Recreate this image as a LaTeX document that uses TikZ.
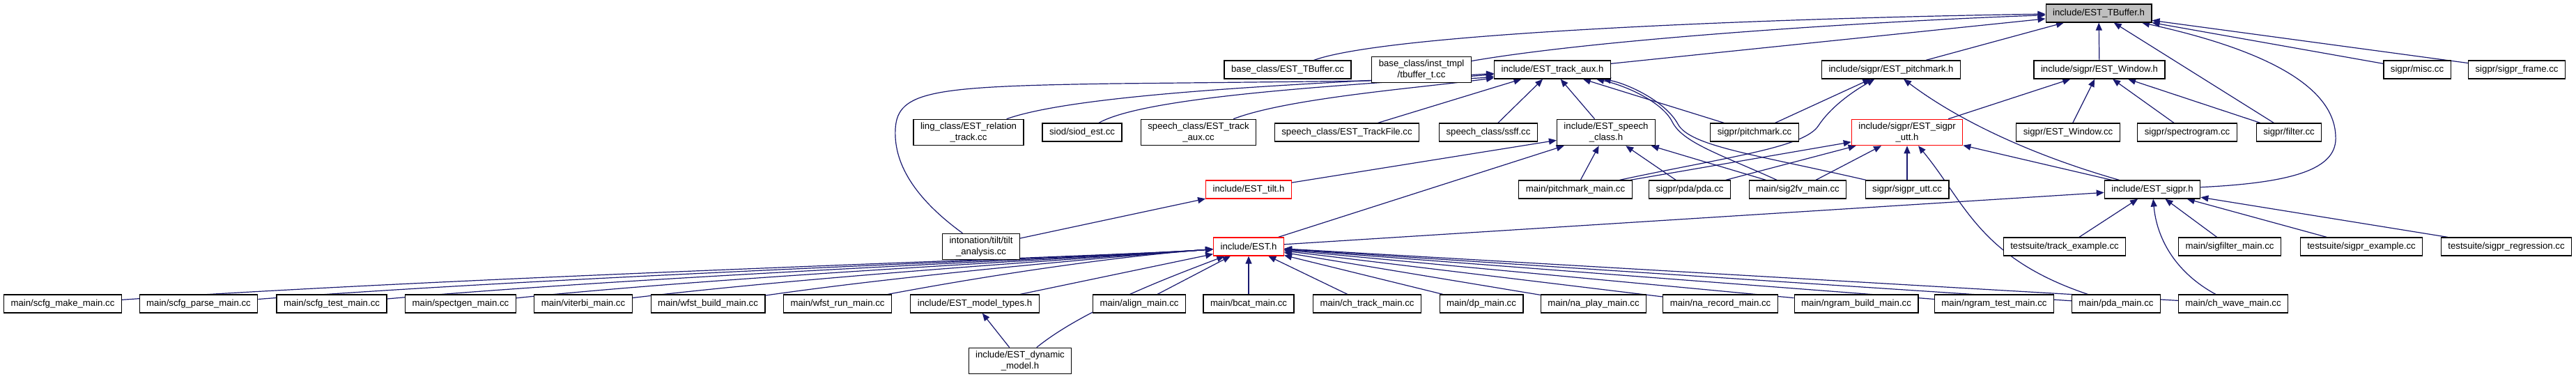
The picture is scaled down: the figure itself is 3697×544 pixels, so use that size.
\documentclass[tikz,border=0pt]{standalone}
\usepackage{fontspec}
\setmainfont{Liberation Sans}
\usetikzlibrary{arrows.meta,backgrounds}
\definecolor{edgeblue}{HTML}{191970}
\definecolor{rootgray}{HTML}{BFBFBF}
\tikzset{
  filenode/.style={draw=black,fill=white,line width=0.6pt,inner xsep=5pt,inner ysep=2.5pt,minimum height=13pt,align=center,font=\fontsize{6.6pt}{7.6pt}\selectfont},
  trunode/.style={filenode,draw=red},
  rootnode/.style={filenode,fill=rootgray},
  incedge/.style={-{Triangle[length=5.5pt,width=4.5pt]},edgeblue,line width=0.6pt},
}

\begin{document}
\begin{tikzpicture}[x=0.5pt,y=-0.5pt]
  \useasboundingbox (0,0) rectangle (3697,544);
  % rank 0
  \node[rootnode] (nTBh) at (3012,19) {include/EST\_TBuffer.h};
  % rank 1
  \node[filenode] (nTBcc) at (1848,100) {base\_class/EST\_TBuffer.cc};
  \node[filenode] (nTBt) at (2040,100) {base\_class/inst\_tmpl\\/tbuffer\_t.cc};
  \node[filenode] (nTAh) at (2228,100) {include/EST\_track\_aux.h};
  \node[filenode] (nPMh) at (2714,100) {include/sigpr/EST\_pitchmark.h};
  \node[filenode] (nWh) at (3013,100) {include/sigpr/EST\_Window.h};
  \node[filenode] (nMisc) at (3469,100) {sigpr/misc.cc};
  \node[filenode] (nFrame) at (3612,100) {sigpr/sigpr\_frame.cc};
  % rank 2
  \node[filenode] (nRel) at (1390,190) {ling\_class/EST\_relation\\\_track.cc};
  \node[filenode] (nSiod) at (1553,190) {siod/siod\_est.cc};
  \node[filenode] (nTAcc) at (1720,190) {speech\_class/EST\_track\\\_aux.cc};
  \node[filenode] (nTF) at (1933,190) {speech\_class/EST\_TrackFile.cc};
  \node[filenode] (nSsff) at (2136,190) {speech\_class/ssff.cc};
  \node[filenode] (nSCh) at (2305,190) {include/EST\_speech\\\_class.h};
  \node[filenode] (nPMcc) at (2518,190) {sigpr/pitchmark.cc};
  \node[trunode] (nSUh) at (2737,190) {include/sigpr/EST\_sigpr\\\_utt.h};
  \node[filenode] (nWcc) at (2968,190) {sigpr/EST\_Window.cc};
  \node[filenode] (nSpec) at (3139,190) {sigpr/spectrogram.cc};
  \node[filenode] (nFilt) at (3285,190) {sigpr/filter.cc};
  % rank 3
  \node[trunode] (nTilth) at (1792,272) {include/EST\_tilt.h};
  \node[filenode] (nPMmain) at (2261,272) {main/pitchmark\_main.cc};
  \node[filenode] (nPda) at (2425,272) {sigpr/pda/pda.cc};
  \node[filenode] (nS2fv) at (2580,272) {main/sig2fv\_main.cc};
  \node[filenode] (nSUcc) at (2737,272) {sigpr/sigpr\_utt.cc};
  \node[filenode] (nSigh) at (3089,272) {include/EST\_sigpr.h};
  % rank 4
  \node[filenode] (nTiltA) at (1408,354) {intonation/tilt/tilt\\\_analysis.cc};
  \node[trunode] (nESTh) at (1792,354) {include/EST.h};
  \node[filenode] (nTrEx) at (2963,354) {testsuite/track\_example.cc};
  \node[filenode] (nSigF) at (3200,354) {main/sigfilter\_main.cc};
  \node[filenode] (nSigEx) at (3389,354) {testsuite/sigpr\_example.cc};
  \node[filenode] (nSigReg) at (3597,354) {testsuite/sigpr\_regression.cc};
  % rank 5
  \node[filenode] (nScfgMake) at (90,436) {main/scfg\_make\_main.cc};
  \node[filenode] (nScfgParse) at (285,436) {main/scfg\_parse\_main.cc};
  \node[filenode] (nScfgTest) at (476,436) {main/scfg\_test\_main.cc};
  \node[filenode] (nSpectgen) at (661,436) {main/spectgen\_main.cc};
  \node[filenode] (nViterbi) at (837,436) {main/viterbi\_main.cc};
  \node[filenode] (nWfstBuild) at (1016,436) {main/wfst\_build\_main.cc};
  \node[filenode] (nWfstRun) at (1202,436) {main/wfst\_run\_main.cc};
  \node[filenode] (nModel) at (1399,436) {include/EST\_model\_types.h};
  \node[filenode] (nAlign) at (1635,436) {main/align\_main.cc};
  \node[filenode] (nBcat) at (1792,436) {main/bcat\_main.cc};
  \node[filenode] (nChTrack) at (1962,436) {main/ch\_track\_main.cc};
  \node[filenode] (nDp) at (2126,436) {main/dp\_main.cc};
  \node[filenode] (nNaPlay) at (2287,436) {main/na\_play\_main.cc};
  \node[filenode] (nNaRec) at (2469,436) {main/na\_record\_main.cc};
  \node[filenode] (nNgBuild) at (2664,436) {main/ngram\_build\_main.cc};
  \node[filenode] (nNgTest) at (2862,436) {main/ngram\_test\_main.cc};
  \node[filenode] (nPdaMain) at (3037,436) {main/pda\_main.cc};
  \node[filenode] (nChWave) at (3205,436) {main/ch\_wave\_main.cc};
  % rank 6
  \node[filenode] (nDyn) at (1464,518) {include/EST\_dynamic\\\_model.h};

  \begin{scope}[on background layer]
  % edges into EST_TBuffer.h
  \draw[incedge] (nTBcc) .. controls (2000,45) and (2600,25) .. (nTBh);
  \draw[incedge] (nTBt) .. controls (2300,55) and (2700,30) .. (nTBh);
  \draw[incedge] (nTAh) -- (nTBh);
  \draw[incedge] (nPMh) -- (nTBh);
  \draw[incedge] (nWh) -- (nTBh);
  \draw[incedge] (nFilt) -- (nTBh);
  \draw[incedge] (nSigh) .. controls (3300,262) and (3355,240) .. (3352,195)
    .. controls (3350,140) and (3290,80) .. (nTBh);
  \draw[incedge] (nMisc) -- (nTBh);
  \draw[incedge] (nFrame) -- (nTBh);
  % edges into EST_track_aux.h
  \draw[incedge] (nRel) .. controls (1560,130) and (1950,118) .. (nTAh);
  \draw[incedge] (nSiod) .. controls (1650,135) and (1980,120) .. (nTAh);
  \draw[incedge] (nTAcc) .. controls (1850,140) and (2050,125) .. (nTAh);
  \draw[incedge] (nTF) -- (nTAh);
  \draw[incedge] (nSsff) -- (nTAh);
  \draw[incedge] (nSCh) -- (nTAh);
  \draw[incedge] (nPMcc) -- (nTAh);
  \draw[incedge] (nS2fv) .. controls (2470,222) and (2415,205) .. (2400,175)
    .. controls (2385,145) and (2330,122) .. (nTAh);
  \draw[incedge] (nSUcc) .. controls (2520,222) and (2425,210) .. (2408,178)
    .. controls (2390,145) and (2335,120) .. (nTAh);
  \draw[incedge] (nTiltA) .. controls (1320,290) and (1282,240) .. (1285,185)
    .. controls (1288,130) and (1340,124) .. (1600,120)
    .. controls (1900,117) and (2100,115) .. (nTAh);
  % edges into EST_pitchmark.h
  \draw[incedge] (nPMcc) -- (nPMh);
  \draw[incedge] (nPMmain) .. controls (2480,225) and (2590,212) .. (2610,180)
    .. controls (2630,150) and (2665,128) .. (nPMh);
  \draw[incedge] (nSigh) .. controls (2900,218) and (2800,165) .. (nPMh);
  % edges into EST_Window.h
  \draw[incedge] (nSUh) -- (nWh);
  \draw[incedge] (nWcc) -- (nWh);
  \draw[incedge] (nSpec) -- (nWh);
  \draw[incedge] (nFilt) -- (nWh);
  % edges into EST_speech_class.h
  \draw[incedge] (nTilth) -- (nSCh);
  \draw[incedge] (nESTh) -- (nSCh);
  \draw[incedge] (nPMmain) -- (nSCh);
  \draw[incedge] (nPda) -- (nSCh);
  \draw[incedge] (nS2fv) -- (nSCh);
  % edges into EST_sigpr_utt.h
  \draw[incedge] (nPMmain) -- (nSUh);
  \draw[incedge] (nPda) -- (nSUh);
  \draw[incedge] (nS2fv) -- (nSUh);
  \draw[incedge] (nSUcc) -- (nSUh);
  \draw[incedge] (nSigh) -- (nSUh);
  \draw[incedge] (nPdaMain) .. controls (2840,370) and (2820,290) .. (nSUh);
  % edges into EST_sigpr.h
  \draw[incedge] (nESTh) -- (nSigh);
  \draw[incedge] (nTrEx) -- (nSigh);
  \draw[incedge] (nSigF) -- (nSigh);
  \draw[incedge] (nSigEx) -- (nSigh);
  \draw[incedge] (nSigReg) -- (nSigh);
  \draw[incedge] (nChWave) .. controls (3120,390) and (3095,340) .. (nSigh);
  % edges into EST_tilt.h
  \draw[incedge] (nTiltA) -- (nTilth);
  % edges into EST.h
  \foreach \n/\cx in {nScfgMake/700,nScfgParse/820,nScfgTest/940,nSpectgen/1060,nViterbi/1180,nWfstBuild/1300,nWfstRun/1420}
    \draw[incedge] (\n) .. controls (\cx,395) and (1600,368) .. (nESTh);
  \foreach \n in {nModel,nAlign,nBcat,nChTrack,nDp,nNaPlay,nNaRec,nNgBuild,nNgTest,nPdaMain,nChWave}
    \draw[incedge] (\n) -- (nESTh);
  \draw[incedge] (nDyn) .. controls (1560,440) and (1700,390) .. (nESTh);
  % edges into EST_model_types.h
  \draw[incedge] (nDyn) -- (nModel);
  \end{scope}
\end{tikzpicture}
\end{document}
